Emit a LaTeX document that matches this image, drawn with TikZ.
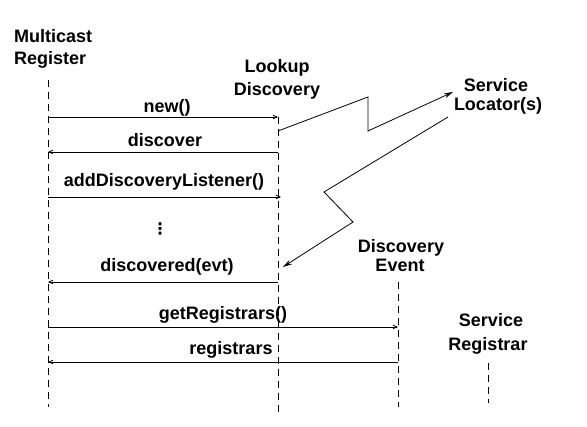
\documentclass[tikz,border=0pt]{standalone}
\usepackage{fontspec}
\setmainfont{Liberation Sans}
\newfontfamily\dvsans{DejaVu Sans}
\usetikzlibrary{arrows.meta}
\begin{document}
\begin{tikzpicture}[x=1pt,y=-1pt,
  lbl/.style={font=\fontsize{18}{20}\selectfont\bfseries, inner sep=0pt, anchor=base},
  lifeline/.style={line width=0.8pt, dash pattern=on 7pt off 5pt},
  msg/.style={line width=0.8pt, -{Straight Barb[length=4pt,width=3.5pt]}},
  zig/.style={line width=0.8pt, -{Stealth[length=9pt,width=5pt]}}]
\useasboundingbox (0,0) rectangle (587,427);
% headings
\node[lbl, anchor=base west] (mc1) at (14,43) {Multicast};
\node[lbl, anchor=base west] (mc2) at (14,65) {Register};
\node[lbl] (ld1) at (277,73) {Lookup};
\node[lbl] (ld2) at (277,96) {Discovery};
\node[lbl] (sl1) at (496,92) {Service};
\node[lbl] (sl2) at (498,111) {Locator(s)};
\node[lbl] (de1) at (401,253) {Discovery};
\node[lbl] (de2) at (400,272) {Event};
\node[lbl] (sr1) at (491,327) {Service};
\node[lbl] (sr2) at (488,351) {Registrar};
% lifeline ends
\coordinate (mrT) at (48,80);   \coordinate (mrB) at (48,407);
\coordinate (ldT) at (278,117); \coordinate (ldB) at (278,412);
\coordinate (deT) at (398,282); \coordinate (deB) at (398,407);
\coordinate (srT) at (488,363); \coordinate (srB) at (488,403);
\draw[lifeline] (mrT) -- (mrB);
\draw[lifeline] (ldT) -- (ldB);
\draw[lifeline] (deT) -- (deB);
\draw[lifeline] (srT) -- (srB);
% message points
\coordinate (m1a) at (48,117);  \coordinate (m1b) at (278,117);
\coordinate (m2a) at (278,152); \coordinate (m2b) at (48,152);
\coordinate (m3a) at (48,197);  \coordinate (m3b) at (281,197);
\coordinate (m4a) at (278,282); \coordinate (m4b) at (48,282);
\coordinate (m5a) at (48,327);  \coordinate (m5b) at (398,327);
\coordinate (m6a) at (398,362); \coordinate (m6b) at (48,362);
\draw[msg] (m1a) -- (m1b);
\draw[msg] (m2a) -- (m2b);
\draw[msg] (m3a) -- (m3b);
\draw[msg] (m4a) -- (m4b);
\draw[msg] (m5a) -- (m5b);
\draw[msg] (m6a) -- (m6b);
\node[lbl] (t1) at (167,113) {new()};
\node[lbl] (t2) at (165,147) {discover};
\node[lbl] (t3) at (164,187) {addDiscoveryListener()};
\node[lbl, anchor=center] (t4) at (160,229) {\dvsans\fontsize{16}{16}\selectfont\bfseries ⋮};
\node[lbl] (t5) at (167,272) {discovered(evt)};
\node[lbl] (t6) at (223,320) {getRegistrars()};
\node[lbl] (t7) at (231,355) {registrars};
% zigzags
\coordinate (z1a) at (278,131);
\coordinate (z1b) at (368,97);
\coordinate (z1c) at (368,131);
\coordinate (z1d) at (453,92);
\draw[zig] (z1a) -- (z1b) -- (z1c) -- (z1d);
\coordinate (z2a) at (448,117);
\coordinate (z2b) at (324,192);
\coordinate (z2c) at (353,222);
\coordinate (z2d) at (283,267);
\draw[zig] (z2a) -- (z2b) -- (z2c) -- (z2d);
\end{tikzpicture}
\end{document}
